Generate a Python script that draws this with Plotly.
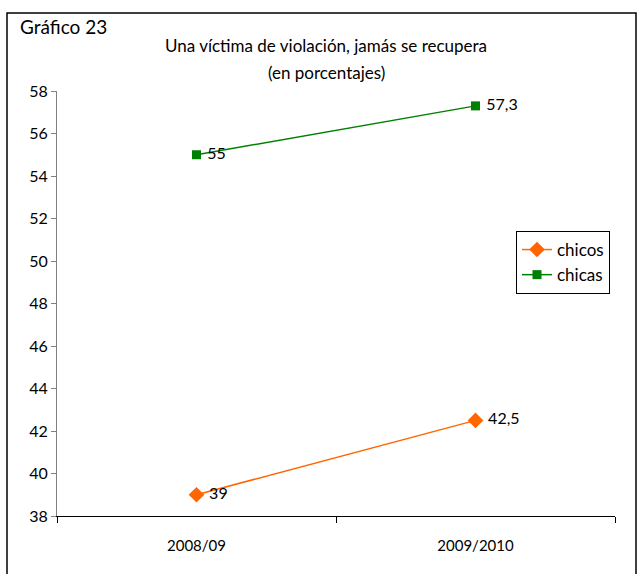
import plotly.graph_objects as go

categories = ["2008/09", "2009/2010"]
chicos = [39, 42.5]
chicas = [55, 57.3]
y_ticks = list(range(38, 59, 2))

FONT = "Lato, Roboto, sans-serif"

W, H = 640, 574
L, R, T, B = 57, 25, 91, 58
pw, ph = W - L - R, H - T - B

def px(x):
    return (x - L) / pw

def py(y):
    return (H - B - y) / ph

def lab(v):
    return " " + f"{v:g}".replace(".", ",")

fig = go.Figure()
fig.add_trace(go.Scatter(
    x=categories, y=chicos, name="chicos", mode="lines+markers+text",
    line=dict(color="#FF6600", width=1.5),
    marker=dict(symbol="diamond", size=12, color="#FF6600"),
    text=[lab(v) for v in chicos],
    textposition="middle right", textfont=dict(size=16, color="#000", family=FONT),
))
fig.add_trace(go.Scatter(
    x=categories, y=chicas, name="chicas", mode="lines+markers+text",
    line=dict(color="#008000", width=1.5),
    marker=dict(symbol="square", size=9, color="#008000"),
    text=[lab(v) for v in chicas],
    textposition="middle right", textfont=dict(size=16, color="#000", family=FONT),
))

fig.update_layout(
    width=W, height=H,
    margin=dict(l=L, r=R, t=T, b=B),
    paper_bgcolor="white", plot_bgcolor="white",
    separators=",.",
    font=dict(family=FONT, size=15, color="#000"),
    showlegend=True,
    legend=dict(x=px(516), y=py(231), xanchor="left", yanchor="top",
                bordercolor="#000", borderwidth=1, bgcolor="white",
                font=dict(size=17, family=FONT), tracegroupgap=6),
    xaxis=dict(type="category", showgrid=False, showline=True, linecolor="#000",
               linewidth=1, ticks="outside", ticklen=6, tickcolor="#000",
               tickson="boundaries", range=[-0.5, 1.5], ticklabelstandoff=16,
               tickfont=dict(size=15, family=FONT), zeroline=False),
    yaxis=dict(range=[38, 58], tickvals=y_ticks, showgrid=False, showline=True,
               linecolor="#808080", linewidth=1, ticks="outside", ticklen=5,
               tickcolor="#808080", tickfont=dict(size=16, family=FONT),
               zeroline=False),
    annotations=[
        dict(text="Gráfico 23", xref="paper", yref="paper", x=px(18), y=py(27),
             xanchor="left", yanchor="middle", showarrow=False,
             font=dict(size=19, family=FONT)),
        dict(text="Una víctima de violación, jamás se recupera", xref="paper",
             yref="paper", x=px(326), y=py(45), xanchor="center", yanchor="middle",
             showarrow=False, font=dict(size=17, family=FONT)),
        dict(text="(en porcentajes)", xref="paper", yref="paper", x=px(326),
             y=py(72), xanchor="center", yanchor="middle", showarrow=False,
             font=dict(size=17, family=FONT)),
    ],
    shapes=[dict(type="rect", xref="paper", yref="paper",
                 x0=px(7), x1=px(636), y0=py(590), y1=py(13),
                 line=dict(color="#000", width=1.5), fillcolor="rgba(0,0,0,0)",
                 layer="below")],
)

fig.write_html("out.html", config={"displayModeBar": False},
               post_script="document.body.style.margin='0px';")
